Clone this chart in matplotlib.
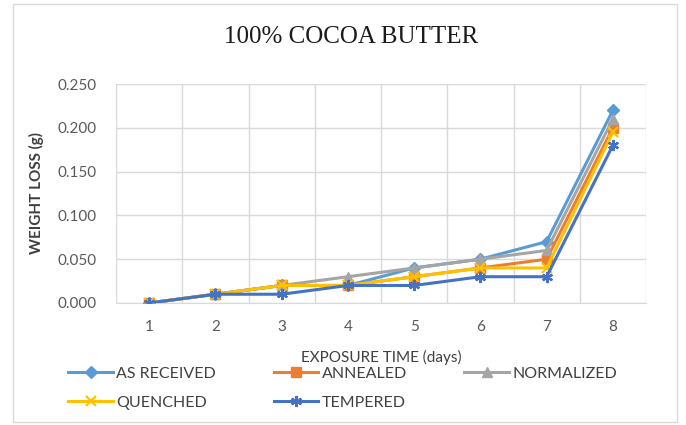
import matplotlib
matplotlib.use("Agg")
import matplotlib.pyplot as plt
from matplotlib.patches import Rectangle

days = [1, 2, 3, 4, 5, 6, 7, 8]
as_received = [0.000, 0.010, 0.020, 0.020, 0.040, 0.050, 0.070, 0.220]
annealed    = [0.000, 0.010, 0.020, 0.020, 0.030, 0.040, 0.050, 0.200]
normalized  = [0.000, 0.010, 0.020, 0.030, 0.040, 0.050, 0.060, 0.210]
quenched    = [0.000, 0.010, 0.020, 0.020, 0.030, 0.040, 0.040, 0.195]
tempered    = [0.000, 0.010, 0.010, 0.020, 0.020, 0.030, 0.030, 0.180]
series_names = ["AS RECEIVED", "ANNEALED", "NORMALIZED", "QUENCHED", "TEMPERED"]
y_ticks = [0.000, 0.050, 0.100, 0.150, 0.200, 0.250]

colors = ["#5B9BD5", "#ED7D31", "#A5A5A5", "#FFC000", "#4472C4"]
markers = ["D", "s", "^", "x", (6, 2, 0)]
msizes = [6, 6.5, 7, 7, 8]

fig = plt.figure(figsize=(6.86, 4.25), dpi=100)
fig.patches.append(Rectangle((13/686, 3/425), (677-13)/686, (421-3)/425,
                             transform=fig.transFigure, fill=False,
                             edgecolor="#D9D9D9", linewidth=1.0))
ax = fig.add_axes([116/686, 1-303/425, (646-116)/686, (303-84)/425])

font = "Lato"
handles = []
for i, vals in enumerate([as_received, annealed, normalized, quenched, tempered]):
    mew = 1.6 if i >= 3 else 1.0
    h, = ax.plot(days, vals, color=colors[i], lw=2.2, marker=markers[i],
                 markersize=msizes[i], markeredgewidth=mew, label=series_names[i],
                 zorder=3 + i)
    handles.append(h)

ax.set_xlim(0.5, 8.5)
ax.set_ylim(0, 0.25)
ax.set_yticks(y_ticks)
ax.set_yticklabels([f"{v:.3f}" for v in y_ticks], fontfamily=font,
                   fontsize=11, color="#595959")
ax.set_xticks(days)
ax.set_xticklabels([str(d) for d in days], fontfamily=font, fontsize=11,
                   color="#595959")
ax.set_xticks([d + 0.5 for d in range(0, 9)], minor=True)
ax.grid(True, which="major", axis="y", color="#D9D9D9", lw=1)
ax.grid(True, which="minor", axis="x", color="#D9D9D9", lw=1)
ax.tick_params(axis="both", which="both", length=0)
ax.tick_params(axis="x", pad=12)
ax.tick_params(axis="y", pad=14)
for s in ["top", "right", "left"]:
    ax.spines[s].set_visible(False)
ax.spines["bottom"].set_color("#D9D9D9")
ax.set_axisbelow(True)

ax.set_ylabel("WEIGHT LOSS (g)", fontfamily=font, fontsize=11, color="#404040",
              fontweight="bold", labelpad=10)
ax.set_xlabel("EXPOSURE TIME (days)", fontfamily=font, fontsize=11,
              color="#404040", labelpad=12)
fig.text(351/686, 1-37/425, "100% COCOA BUTTER", fontfamily="Liberation Serif",
         fontsize=18, ha="center", va="center", color="#1a1a1a")

order = [0, 3, 1, 4, 2]
leg = fig.legend([handles[k] for k in order], [series_names[k] for k in order],
                 loc="upper left", bbox_to_anchor=(62/686, 1-360/425), ncol=3,
                 frameon=False, prop={"family": font, "size": 11.5},
                 handlelength=2.8, handletextpad=0.2, columnspacing=3.6,
                 labelspacing=0.95, borderaxespad=0)
for t in leg.get_texts():
    t.set_color("#404040")

fig.savefig("out.png", dpi=100)
